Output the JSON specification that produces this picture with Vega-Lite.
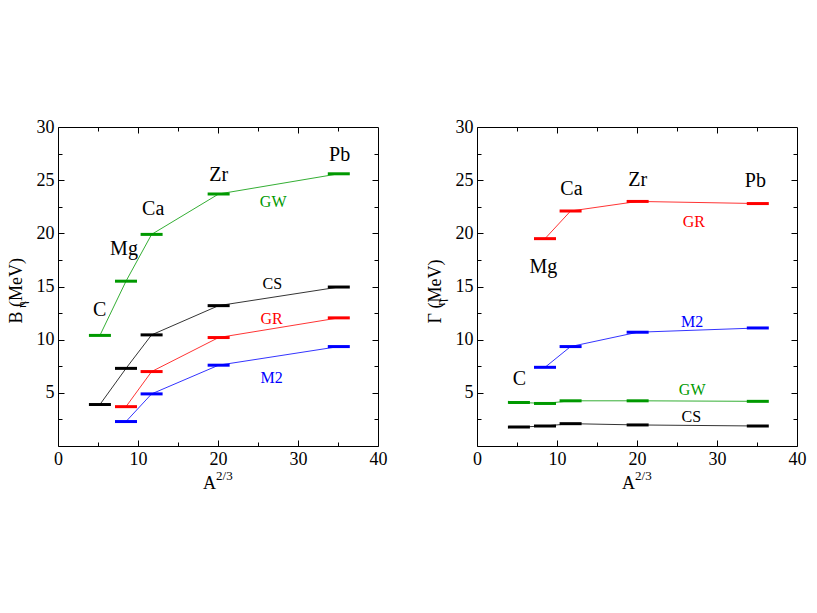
{
  "$schema": "https://vega.github.io/schema/vega-lite/v6.json",
  "background": "white",
  "padding": {"left": 6, "top": 117, "right": 5, "bottom": 5},
  "spacing": 37,
  "config": {
    "view": {"stroke": "black", "strokeWidth": 1},
    "axis": {
      "labelFont": "Liberation Serif", "titleFont": "Liberation Serif",
      "labelFontSize": 18, "titleFontSize": 18, "labelColor": "black", "titleColor": "black",
      "titleFontWeight": "normal", "domain": false, "grid": false, "labelFlush": false,
      "tickColor": "black", "tickWidth": 1, "labelPadding": 10
    },
    "text": {"font": "Liberation Serif"}
  },
  "datasets": {
    "pts": [
      {"p": "B", "s": "GW", "n": "C", "x": 5.24, "y": 10.4},
      {"p": "B", "s": "GW", "n": "Mg", "x": 8.5, "y": 15.5},
      {"p": "B", "s": "GW", "n": "Ca", "x": 11.7, "y": 19.9},
      {"p": "B", "s": "GW", "n": "Zr", "x": 20.08, "y": 23.7},
      {"p": "B", "s": "GW", "n": "Pb", "x": 35.1, "y": 25.6},
      {"p": "B", "s": "CS", "n": "C", "x": 5.24, "y": 3.9},
      {"p": "B", "s": "CS", "n": "Mg", "x": 8.5, "y": 7.3},
      {"p": "B", "s": "CS", "n": "Ca", "x": 11.7, "y": 10.45},
      {"p": "B", "s": "CS", "n": "Zr", "x": 20.08, "y": 13.2},
      {"p": "B", "s": "CS", "n": "Pb", "x": 35.1, "y": 14.95},
      {"p": "B", "s": "GR", "n": "Mg", "x": 8.5, "y": 3.7},
      {"p": "B", "s": "GR", "n": "Ca", "x": 11.7, "y": 7.0},
      {"p": "B", "s": "GR", "n": "Zr", "x": 20.08, "y": 10.2},
      {"p": "B", "s": "GR", "n": "Pb", "x": 35.1, "y": 12.05},
      {"p": "B", "s": "M2", "n": "Mg", "x": 8.5, "y": 2.3},
      {"p": "B", "s": "M2", "n": "Ca", "x": 11.7, "y": 4.9},
      {"p": "B", "s": "M2", "n": "Zr", "x": 20.08, "y": 7.6},
      {"p": "B", "s": "M2", "n": "Pb", "x": 35.1, "y": 9.35},
      {"p": "G", "s": "GR", "n": "Mg", "x": 8.5, "y": 19.5},
      {"p": "G", "s": "GR", "n": "Ca", "x": 11.7, "y": 22.1},
      {"p": "G", "s": "GR", "n": "Zr", "x": 20.08, "y": 23.0},
      {"p": "G", "s": "GR", "n": "Pb", "x": 35.1, "y": 22.8},
      {"p": "G", "s": "M2", "n": "Mg", "x": 8.5, "y": 7.4},
      {"p": "G", "s": "M2", "n": "Ca", "x": 11.7, "y": 9.35},
      {"p": "G", "s": "M2", "n": "Zr", "x": 20.08, "y": 10.7},
      {"p": "G", "s": "M2", "n": "Pb", "x": 35.1, "y": 11.1},
      {"p": "G", "s": "GW", "n": "C", "x": 5.24, "y": 4.1},
      {"p": "G", "s": "GW", "n": "Mg", "x": 8.5, "y": 4.0},
      {"p": "G", "s": "GW", "n": "Ca", "x": 11.7, "y": 4.25},
      {"p": "G", "s": "GW", "n": "Zr", "x": 20.08, "y": 4.25},
      {"p": "G", "s": "GW", "n": "Pb", "x": 35.1, "y": 4.2},
      {"p": "G", "s": "CS", "n": "C", "x": 5.24, "y": 1.78},
      {"p": "G", "s": "CS", "n": "Mg", "x": 8.5, "y": 1.88},
      {"p": "G", "s": "CS", "n": "Ca", "x": 11.7, "y": 2.1},
      {"p": "G", "s": "CS", "n": "Zr", "x": 20.08, "y": 1.98},
      {"p": "G", "s": "CS", "n": "Pb", "x": 35.1, "y": 1.88}
    ],
    "lab": [
      {"p": "B", "k": "nuc", "t": "C", "x": 5.2, "y": 12.8},
      {"p": "B", "k": "nuc", "t": "Mg", "x": 8.25, "y": 18.5},
      {"p": "B", "k": "nuc", "t": "Ca", "x": 11.9, "y": 22.3},
      {"p": "B", "k": "nuc", "t": "Zr", "x": 20.1, "y": 25.5},
      {"p": "B", "k": "nuc", "t": "Pb", "x": 35.2, "y": 27.4},
      {"p": "B", "k": "ser", "t": "GW", "x": 26.9, "y": 22.95},
      {"p": "B", "k": "ser", "t": "CS", "x": 26.8, "y": 15.2},
      {"p": "B", "k": "ser", "t": "GR", "x": 26.7, "y": 11.9},
      {"p": "B", "k": "ser", "t": "M2", "x": 26.7, "y": 6.35},
      {"p": "B", "k": "sub", "t": "η", "x": 0, "y": 13.3},
      {"p": "B", "k": "sup", "t": "2/3", "x": 20.8, "y": 0},
      {"p": "G", "k": "nuc", "t": "C", "x": 5.3, "y": 6.26},
      {"p": "G", "k": "nuc", "t": "Mg", "x": 8.3, "y": 16.85},
      {"p": "G", "k": "nuc", "t": "Ca", "x": 11.8, "y": 24.2},
      {"p": "G", "k": "nuc", "t": "Zr", "x": 20.1, "y": 25.0},
      {"p": "G", "k": "nuc", "t": "Pb", "x": 34.8, "y": 24.9},
      {"p": "G", "k": "ser", "t": "GR", "x": 27.1, "y": 21.1},
      {"p": "G", "k": "ser", "t": "M2", "x": 26.9, "y": 11.7},
      {"p": "G", "k": "ser", "t": "GW", "x": 26.9, "y": 5.25},
      {"p": "G", "k": "ser", "t": "CS", "x": 26.8, "y": 2.75},
      {"p": "G", "k": "sub", "t": "η", "x": 0, "y": 13.5},
      {"p": "G", "k": "sup", "t": "2/3", "x": 20.8, "y": 0}
    ]
  },
  "hconcat": [
    {
      "width": 320,
      "height": 319,
      "resolve": {"axis": {"x": "independent", "y": "independent"}},
      "layer": [
        {
          "data": {"name": "pts"},
          "transform": [{"filter": "datum.p == 'B'"}],
          "mark": {"type": "line", "strokeWidth": 0.8},
          "encoding": {
            "x": {"field": "x", "type": "quantitative", "scale": {"domain": [0, 40], "nice": false, "zero": false},
                  "axis": {"orient": "bottom", "values": [0, 10, 20, 30, 40], "tickSize": -6, "title": "A", "titleX": 151, "titlePadding": 6,
                           "labelFont": "Liberation Serif", "titleFont": "Liberation Serif"}},
            "y": {"field": "y", "type": "quantitative", "scale": {"domain": [0, 30], "nice": false, "zero": false},
                  "axis": {"orient": "left", "values": [5, 10, 15, 20, 25, 30], "tickSize": -6, "title": "B   (MeV)",
                           "titleAlign": "left", "titleY": 196, "titleX": -33,
                           "labelFont": "Liberation Serif", "titleFont": "Liberation Serif"}},
            "color": {"field": "s", "type": "nominal", "legend": null,
                      "scale": {"domain": ["GW", "CS", "GR", "M2"], "range": ["#009900", "#000000", "#ff0000", "#0000ff"]}},
            "detail": {"field": "s"}
          }
        },
        {
          "data": {"name": "pts"},
          "transform": [{"filter": "datum.p == 'B'"}],
          "mark": {"type": "tick", "orient": "horizontal", "size": 22, "thickness": 3, "opacity": 1},
          "encoding": {
            "x": {"field": "x", "type": "quantitative",
                  "axis": {"orient": "bottom", "values": [5, 15, 25, 35], "tickSize": -4, "labels": false, "title": null}},
            "y": {"field": "y", "type": "quantitative",
                  "axis": {"orient": "left", "values": [2.5, 7.5, 12.5, 17.5, 22.5, 27.5], "tickSize": -4, "labels": false, "title": null}},
            "color": {"field": "s", "type": "nominal", "legend": null}
          }
        },
        {
          "data": {"name": "lab"},
          "transform": [{"filter": "datum.p == 'B' && datum.k == 'nuc'"}],
          "mark": {"type": "text", "fontSize": 20, "align": "center", "baseline": "middle", "color": "black"},
          "encoding": {
            "x": {"field": "x", "type": "quantitative",
                  "axis": {"orient": "top", "values": [10, 20, 30], "tickSize": -6, "labels": false, "title": null}},
            "y": {"field": "y", "type": "quantitative",
                  "axis": {"orient": "right", "values": [5, 10, 15, 20, 25], "tickSize": -6, "labels": false, "title": null}},
            "text": {"field": "t"}
          }
        },
        {
          "data": {"name": "lab"},
          "transform": [{"filter": "datum.p == 'B' && datum.k == 'ser'"}],
          "mark": {"type": "text", "fontSize": 16, "align": "center", "baseline": "middle"},
          "encoding": {
            "x": {"field": "x", "type": "quantitative",
                  "axis": {"orient": "top", "values": [5, 15, 25, 35], "tickSize": -4, "labels": false, "title": null}},
            "y": {"field": "y", "type": "quantitative",
                  "axis": {"orient": "right", "values": [2.5, 7.5, 12.5, 17.5, 22.5, 27.5], "tickSize": -4, "labels": false, "title": null}},
            "color": {"field": "t", "type": "nominal", "legend": null},
            "text": {"field": "t"}
          }
        },
        {
          "data": {"name": "lab"},
          "transform": [{"filter": "datum.p == 'B' && datum.k == 'sub'"}],
          "mark": {"type": "text", "fontSize": 13, "angle": 270, "align": "center", "baseline": "middle", "dy": -36, "color": "black"},
          "encoding": {
            "x": {"field": "x", "type": "quantitative", "axis": null},
            "y": {"field": "y", "type": "quantitative", "axis": null},
            "text": {"field": "t"}
          }
        },
        {
          "data": {"name": "lab"},
          "transform": [{"filter": "datum.p == 'B' && datum.k == 'sup'"}],
          "mark": {"type": "text", "fontSize": 13, "align": "center", "baseline": "middle", "dy": 30, "color": "black"},
          "encoding": {
            "x": {"field": "x", "type": "quantitative", "axis": null},
            "y": {"field": "y", "type": "quantitative", "axis": null},
            "text": {"field": "t"}
          }
        }
      ]
    },
    {
      "width": 320,
      "height": 319,
      "resolve": {"axis": {"x": "independent", "y": "independent"}},
      "layer": [
        {
          "data": {"name": "pts"},
          "transform": [{"filter": "datum.p == 'G'"}],
          "mark": {"type": "line", "strokeWidth": 0.8},
          "encoding": {
            "x": {"field": "x", "type": "quantitative", "scale": {"domain": [0, 40], "nice": false, "zero": false},
                  "axis": {"orient": "bottom", "values": [0, 10, 20, 30, 40], "tickSize": -6, "title": "A", "titleX": 151, "titlePadding": 6,
                           "labelFont": "Liberation Serif", "titleFont": "Liberation Serif"}},
            "y": {"field": "y", "type": "quantitative", "scale": {"domain": [0, 30], "nice": false, "zero": false},
                  "axis": {"orient": "left", "values": [5, 10, 15, 20, 25, 30], "tickSize": -6, "title": "Γ   (MeV)",
                           "titleAlign": "left", "titleY": 196, "titleX": -33,
                           "labelFont": "Liberation Serif", "titleFont": "Liberation Serif"}},
            "color": {"field": "s", "type": "nominal", "legend": null,
                      "scale": {"domain": ["GW", "CS", "GR", "M2"], "range": ["#009900", "#000000", "#ff0000", "#0000ff"]}},
            "detail": {"field": "s"}
          }
        },
        {
          "data": {"name": "pts"},
          "transform": [{"filter": "datum.p == 'G'"}],
          "mark": {"type": "tick", "orient": "horizontal", "size": 22, "thickness": 3, "opacity": 1},
          "encoding": {
            "x": {"field": "x", "type": "quantitative",
                  "axis": {"orient": "bottom", "values": [5, 15, 25, 35], "tickSize": -4, "labels": false, "title": null}},
            "y": {"field": "y", "type": "quantitative",
                  "axis": {"orient": "left", "values": [2.5, 7.5, 12.5, 17.5, 22.5, 27.5], "tickSize": -4, "labels": false, "title": null}},
            "color": {"field": "s", "type": "nominal", "legend": null}
          }
        },
        {
          "data": {"name": "lab"},
          "transform": [{"filter": "datum.p == 'G' && datum.k == 'nuc'"}],
          "mark": {"type": "text", "fontSize": 20, "align": "center", "baseline": "middle", "color": "black"},
          "encoding": {
            "x": {"field": "x", "type": "quantitative",
                  "axis": {"orient": "top", "values": [10, 20, 30], "tickSize": -6, "labels": false, "title": null}},
            "y": {"field": "y", "type": "quantitative",
                  "axis": {"orient": "right", "values": [5, 10, 15, 20, 25], "tickSize": -6, "labels": false, "title": null}},
            "text": {"field": "t"}
          }
        },
        {
          "data": {"name": "lab"},
          "transform": [{"filter": "datum.p == 'G' && datum.k == 'ser'"}],
          "mark": {"type": "text", "fontSize": 16, "align": "center", "baseline": "middle"},
          "encoding": {
            "x": {"field": "x", "type": "quantitative",
                  "axis": {"orient": "top", "values": [5, 15, 25, 35], "tickSize": -4, "labels": false, "title": null}},
            "y": {"field": "y", "type": "quantitative",
                  "axis": {"orient": "right", "values": [2.5, 7.5, 12.5, 17.5, 22.5, 27.5], "tickSize": -4, "labels": false, "title": null}},
            "color": {"field": "t", "type": "nominal", "legend": null},
            "text": {"field": "t"}
          }
        },
        {
          "data": {"name": "lab"},
          "transform": [{"filter": "datum.p == 'G' && datum.k == 'sub'"}],
          "mark": {"type": "text", "fontSize": 13, "angle": 270, "align": "center", "baseline": "middle", "dy": -36, "color": "black"},
          "encoding": {
            "x": {"field": "x", "type": "quantitative", "axis": null},
            "y": {"field": "y", "type": "quantitative", "axis": null},
            "text": {"field": "t"}
          }
        },
        {
          "data": {"name": "lab"},
          "transform": [{"filter": "datum.p == 'G' && datum.k == 'sup'"}],
          "mark": {"type": "text", "fontSize": 13, "align": "center", "baseline": "middle", "dy": 30, "color": "black"},
          "encoding": {
            "x": {"field": "x", "type": "quantitative", "axis": null},
            "y": {"field": "y", "type": "quantitative", "axis": null},
            "text": {"field": "t"}
          }
        }
      ]
    }
  ]
}
